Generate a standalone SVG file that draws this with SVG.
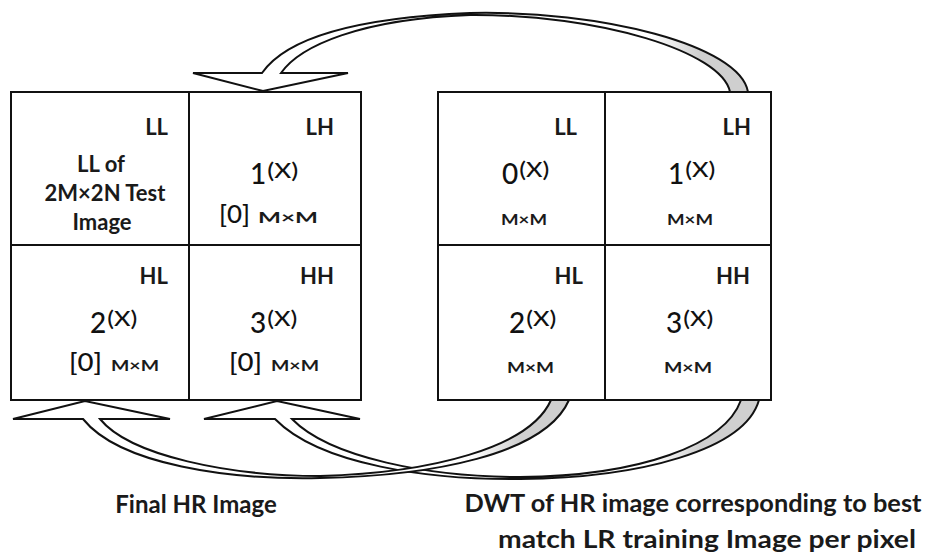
<svg xmlns="http://www.w3.org/2000/svg" width="929" height="558" viewBox="0 0 929 558">
  <style>
    .cell { fill: #ffffff; stroke: #111111; stroke-width: 2; }
    .tag { font-family: Lato, "Open Sans", sans-serif; font-weight: bold; font-size: 22px; fill: #1a1a1a; text-anchor: end; }
    .body { font-family: Lato, "Open Sans", sans-serif; font-weight: bold; font-size: 22px; fill: #1a1a1a; text-anchor: middle; }
    .num { font-family: Lato, "Open Sans", sans-serif; font-size: 28px; font-weight: 500; fill: #111111; }
    .sup { font-family: Lato, "Open Sans", sans-serif; font-size: 21px; font-weight: 500; fill: #111111; }
    .zero { font-family: Lato, "Open Sans", sans-serif; font-size: 25px; font-weight: 500; fill: #111111; }
    .dim { font-family: Lato, "Open Sans", sans-serif; font-size: 16px; font-weight: bold; fill: #1a1a1a; }
    .caption { font-family: Lato, "Open Sans", sans-serif; font-weight: bold; font-size: 24px; fill: #1a1a1a; text-anchor: middle; }
    .arrow { stroke: #111111; stroke-width: 2; stroke-linejoin: miter; }
  </style>
  <defs>
    <linearGradient id="bandTop" gradientUnits="userSpaceOnUse" x1="262" y1="0" x2="748" y2="0">
      <stop offset="0" stop-color="#ffffff"/>
      <stop offset="0.8" stop-color="#ffffff"/>
      <stop offset="0.9" stop-color="#cfcfcf"/>
      <stop offset="1" stop-color="#cfcfcf"/>
    </linearGradient>
    <linearGradient id="bandHL" gradientUnits="userSpaceOnUse" x1="83" y1="0" x2="569" y2="0">
      <stop offset="0" stop-color="#ffffff"/>
      <stop offset="0.8" stop-color="#ffffff"/>
      <stop offset="0.9" stop-color="#cfcfcf"/>
      <stop offset="1" stop-color="#cfcfcf"/>
    </linearGradient>
    <linearGradient id="bandHH" gradientUnits="userSpaceOnUse" x1="275" y1="0" x2="759" y2="0">
      <stop offset="0" stop-color="#ffffff"/>
      <stop offset="0.78" stop-color="#ffffff"/>
      <stop offset="0.88" stop-color="#cfcfcf"/>
      <stop offset="1" stop-color="#cfcfcf"/>
    </linearGradient>
  </defs>

  <rect width="929" height="558" fill="#ffffff"/>

  <!-- Final HR image: four sub-bands -->
  <g id="final-LL">
    <rect class="cell" x="11" y="92" width="178" height="153"/>
    <text class="tag" x="168" y="135">LL</text>
    <text class="body" x="101" y="172">LL of</text>
    <text class="body" x="105" y="201">2M×2N Test</text>
    <text class="body" x="102" y="230">Image</text>
  </g>
  <g id="final-LH">
    <rect class="cell" x="189" y="92" width="172" height="153"/>
    <text class="tag" x="334" y="135">LH</text>
    <text x="250" y="184"><tspan class="num">1</tspan><tspan class="sup" dx="1" dy="-6" textLength="31" lengthAdjust="spacingAndGlyphs">(X)</tspan></text>
    <text class="zero" x="219" y="223" textLength="31" lengthAdjust="spacingAndGlyphs">[0]</text>
    <text class="dim" x="258" y="223" textLength="60" lengthAdjust="spacingAndGlyphs">M×M</text>
  </g>
  <g id="final-HL">
    <rect class="cell" x="11" y="245" width="178" height="155"/>
    <text class="tag" x="168" y="284">HL</text>
    <text x="90" y="333"><tspan class="num">2</tspan><tspan class="sup" dx="1" dy="-7" textLength="30" lengthAdjust="spacingAndGlyphs">(X)</tspan></text>
    <text class="zero" x="69" y="371" textLength="33" lengthAdjust="spacingAndGlyphs">[0]</text>
    <text class="dim" x="111" y="371" textLength="48" lengthAdjust="spacingAndGlyphs">M×M</text>
  </g>
  <g id="final-HH">
    <rect class="cell" x="189" y="245" width="172" height="155"/>
    <text class="tag" x="334" y="284">HH</text>
    <text x="250" y="333"><tspan class="num">3</tspan><tspan class="sup" dx="1" dy="-7" textLength="30" lengthAdjust="spacingAndGlyphs">(X)</tspan></text>
    <text class="zero" x="229" y="371" textLength="33" lengthAdjust="spacingAndGlyphs">[0]</text>
    <text class="dim" x="271" y="371" textLength="48" lengthAdjust="spacingAndGlyphs">M×M</text>
  </g>

  <!-- DWT of the best-matching HR training image -->
  <g id="dwt-LL">
    <rect class="cell" x="438" y="92" width="167" height="153"/>
    <text class="tag" x="577" y="135">LL</text>
    <text x="502" y="184"><tspan class="num">0</tspan><tspan class="sup" dx="1" dy="-7" textLength="30" lengthAdjust="spacingAndGlyphs">(X)</tspan></text>
    <text class="dim" x="501" y="225" textLength="46" lengthAdjust="spacingAndGlyphs">M×M</text>
  </g>
  <g id="dwt-LH">
    <rect class="cell" x="605" y="92" width="166" height="153"/>
    <text class="tag" x="751" y="135">LH</text>
    <text x="668" y="184"><tspan class="num">1</tspan><tspan class="sup" dx="1" dy="-7" textLength="30" lengthAdjust="spacingAndGlyphs">(X)</tspan></text>
    <text class="dim" x="667" y="225" textLength="46" lengthAdjust="spacingAndGlyphs">M×M</text>
  </g>
  <g id="dwt-HL">
    <rect class="cell" x="438" y="245" width="167" height="155"/>
    <text class="tag" x="583" y="284">HL</text>
    <text x="509" y="333"><tspan class="num">2</tspan><tspan class="sup" dx="1" dy="-7" textLength="30" lengthAdjust="spacingAndGlyphs">(X)</tspan></text>
    <text class="dim" x="507" y="373" textLength="47" lengthAdjust="spacingAndGlyphs">M×M</text>
  </g>
  <g id="dwt-HH">
    <rect class="cell" x="605" y="245" width="166" height="155"/>
    <text class="tag" x="750" y="284">HH</text>
    <text x="666" y="333"><tspan class="num">3</tspan><tspan class="sup" dx="1" dy="-7" textLength="30" lengthAdjust="spacingAndGlyphs">(X)</tspan></text>
    <text class="dim" x="664" y="373" textLength="48" lengthAdjust="spacingAndGlyphs">M×M</text>
  </g>

  <!-- curved block arrows carrying the high-frequency bands across -->
  <g id="connectors">
    <path class="arrow" fill="url(#bandTop)"
      d="M748,92 C740,45 600,10 470,13 C350,18 285,40 262,73 L193,73 L263,91 L348,73 L281,73 C300,46 360,19 470,15 C600,14 722,52 730,92 Z"/>
    <path class="arrow" fill="url(#bandHH)"
      d="M759,400 C745,450 640,478 520,479 C430,480 320,465 275,419 L204,419 L277,401 L360,419 L292,419 C330,458 430,477 520,477 C640,476 725,445 741,400 Z"/>
    <path class="arrow" fill="url(#bandHL)"
      d="M569,400 C545,455 430,476 320,478 C230,480 120,465 83,419 L13,419 L85,401 L170,419 L100,419 C130,456 230,476 320,476 C430,473 530,448 551,400 Z"/>
  </g>

  <g id="captions">
    <text class="caption" x="196" y="513">Final HR Image</text>
    <text class="caption" x="693" y="512" textLength="457" lengthAdjust="spacingAndGlyphs">DWT of HR image corresponding to best</text>
    <text class="caption" x="707" y="548" textLength="418" lengthAdjust="spacingAndGlyphs">match LR training Image per pixel</text>
  </g>
</svg>
